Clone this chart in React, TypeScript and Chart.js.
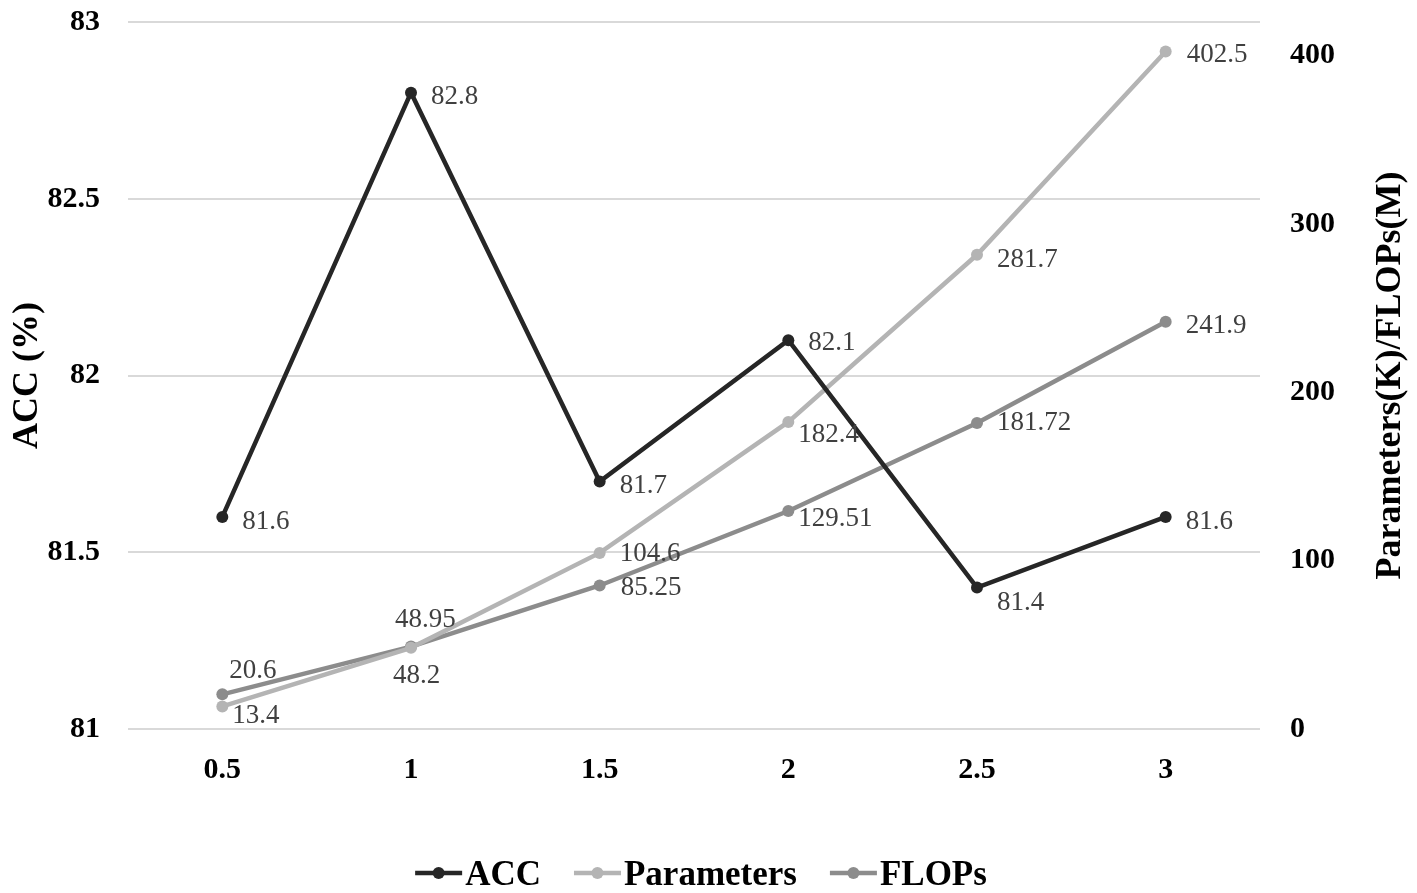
import React, { useEffect, useRef } from 'react';
import { Chart, registerables } from 'chart.js';

Chart.register(...registerables);

// ---------- data ----------
const categories = ['0.5', '1', '1.5', '2', '2.5', '3'];
const accValues = [81.6, 82.8, 81.7, 82.1, 81.4, 81.6];
const paramValues = [13.4, 48.2, 104.6, 182.4, 281.7, 402.5];
const flopsValues = [20.6, 48.95, 85.25, 129.51, 181.72, 241.9];
const seriesNames = ['ACC', 'Parameters', 'FLOPs'];
const leftTicks = [81, 81.5, 82, 82.5, 83];
const rightTicks = [0, 100, 200, 300, 400];
const leftTitle = 'ACC (%)';
const rightTitle = 'Parameters(K)/FLOPs(M)';

// ---------- styles ----------
const FAMILY = "'Liberation Serif', 'Times New Roman', serif";
const seriesColors = ['#262626', '#b4b4b4', '#8c8c8c'];
// label offsets [dx, dy] relative to the point (text left edge, text middle)
const accLabelOffsets = [[20, 3], [20, 2], [20, 3], [20, 1], [20, 13], [20, 3]];
const paramLabelOffsets = [[10, 8], [-18, 26], [20, -1], [10, 11], [20, 3], [21, 2]];
const flopsLabelOffsets = [[7, -25], [-16, -29], [21, 1], [10, 6], [20, -2], [20, 2]];
const labelOffsets = [accLabelOffsets, paramLabelOffsets, flopsLabelOffsets];

const overlayPlugin = {
  id: 'overlay',
  afterDatasetsDraw(chart: any) {
    const ctx = chart.ctx;
    ctx.save();
    ctx.font = `27px ${FAMILY}`;
    ctx.fillStyle = '#404040';
    ctx.textAlign = 'left';
    ctx.textBaseline = 'alphabetic';
    chart.data.datasets.forEach((ds: any, di: number) => {
      const meta = chart.getDatasetMeta(di);
      meta.data.forEach((pt: any, i: number) => {
        const off = labelOffsets[di][i];
        ctx.fillText(String(ds.data[i]), pt.x + off[0], pt.y + off[1] + 27 * 0.331);
      });
    });
    ctx.restore();
  },
  afterDraw(chart: any) {
    const ctx = chart.ctx;
    const area = chart.chartArea;
    const cy = (area.top + area.bottom) / 2;
    ctx.save();
    ctx.fillStyle = '#000';
    ctx.font = `bold 36px ${FAMILY}`;
    ctx.textAlign = 'center';
    ctx.textBaseline = 'alphabetic';
    const cap = 36 * 0.331;
    // left title
    ctx.save();
    ctx.translate(25, cy);
    ctx.rotate(-Math.PI / 2);
    ctx.fillText(leftTitle, 0, cap);
    ctx.restore();
    // right title
    ctx.save();
    ctx.translate(1388, cy);
    ctx.rotate(-Math.PI / 2);
    ctx.fillText(rightTitle, 0, cap);
    ctx.restore();

    // legend
    ctx.font = `bold 35px ${FAMILY}`;
    const markerW = 47;
    const markerGap = 3;
    const itemGap = 33;
    const widths = seriesNames.map((n) => ctx.measureText(n).width);
    const total = widths.reduce((a, b) => a + b, 0) + seriesNames.length * (markerW + markerGap) + (seriesNames.length - 1) * itemGap;
    let x = 701 - total / 2;
    const ly = 873;
    ctx.textAlign = 'left';
    seriesNames.forEach((n, i) => {
      ctx.strokeStyle = seriesColors[i];
      ctx.lineWidth = 4.5;
      ctx.beginPath();
      ctx.moveTo(x, ly);
      ctx.lineTo(x + markerW, ly);
      ctx.stroke();
      ctx.fillStyle = seriesColors[i];
      ctx.beginPath();
      ctx.arc(x + markerW / 2, ly, 6, 0, Math.PI * 2);
      ctx.fill();
      x += markerW + markerGap;
      ctx.fillStyle = '#000';
      ctx.fillText(n, x, ly + 35 * 0.331);
      x += widths[i] + itemGap;
    });
    ctx.restore();
  },
};

const fmt = (v: any) => String(Number(v));

export default function App() {
  const canvasRef = useRef<HTMLCanvasElement | null>(null);

  useEffect(() => {
    if (!canvasRef.current) return;
    const tickFont = { family: FAMILY, size: 30, weight: 'bold' as const };
    const makeDs = (label: string, data: number[], color: string, axis: string) => ({
      label,
      data,
      yAxisID: axis,
      borderColor: color,
      backgroundColor: color,
      pointBackgroundColor: color,
      pointBorderColor: color,
      borderWidth: 4.5,
      pointRadius: 6,
      pointBorderWidth: 0,
      tension: 0,
      fill: false,
    });
    const noPad = (s: any) => {
      s.paddingTop = 0;
      s.paddingBottom = 0;
      s.paddingLeft = 0;
      s.paddingRight = 0;
    };
    const chart = new Chart(canvasRef.current, {
      type: 'line',
      data: {
        labels: categories,
        datasets: [
          makeDs(seriesNames[0], accValues, seriesColors[0], 'y'),
          makeDs(seriesNames[1], paramValues, seriesColors[1], 'y1'),
          makeDs(seriesNames[2], flopsValues, seriesColors[2], 'y1'),
        ],
      },
      options: {
        animation: false,
        responsive: true,
        maintainAspectRatio: false,
        layout: { padding: { top: 22, left: 0, right: 0, bottom: 0 } },
        plugins: {
          legend: { display: false },
          tooltip: { enabled: false },
        },
        scales: {
          x: {
            type: 'category',
            offset: true,
            grid: { display: false, drawTicks: false },
            border: { display: false },
            ticks: { font: tickFont, color: '#000', padding: 23, maxRotation: 0 },
            afterFit: (s: any) => { s.height = 164; noPad(s); },
          },
          y: {
            type: 'linear',
            position: 'left',
            min: 81,
            max: 83,
            afterBuildTicks: (s: any) => { s.ticks = leftTicks.map((v) => ({ value: v })); },
            grid: { color: '#d9d9d9', lineWidth: 2, drawTicks: false },
            border: { display: false },
            ticks: { font: tickFont, color: '#000', padding: 28, callback: fmt },
            afterFit: (s: any) => { s.width = 128; noPad(s); },
          },
          y1: {
            type: 'linear',
            position: 'right',
            min: 0,
            max: 420,
            afterBuildTicks: (s: any) => { s.ticks = rightTicks.map((v) => ({ value: v })); },
            grid: { display: false, drawTicks: false },
            border: { display: false },
            ticks: { font: tickFont, color: '#000', padding: 30, callback: fmt },
            afterFit: (s: any) => { s.width = 157; noPad(s); },
          },
        },
      },
      plugins: [overlayPlugin],
    });
    return () => chart.destroy();
  }, []);

  return (
    <div style={{ position: 'absolute', left: 0, top: 0, width: 1417, height: 893, background: '#fff' }}>
      <canvas ref={canvasRef} />
    </div>
  );
}
